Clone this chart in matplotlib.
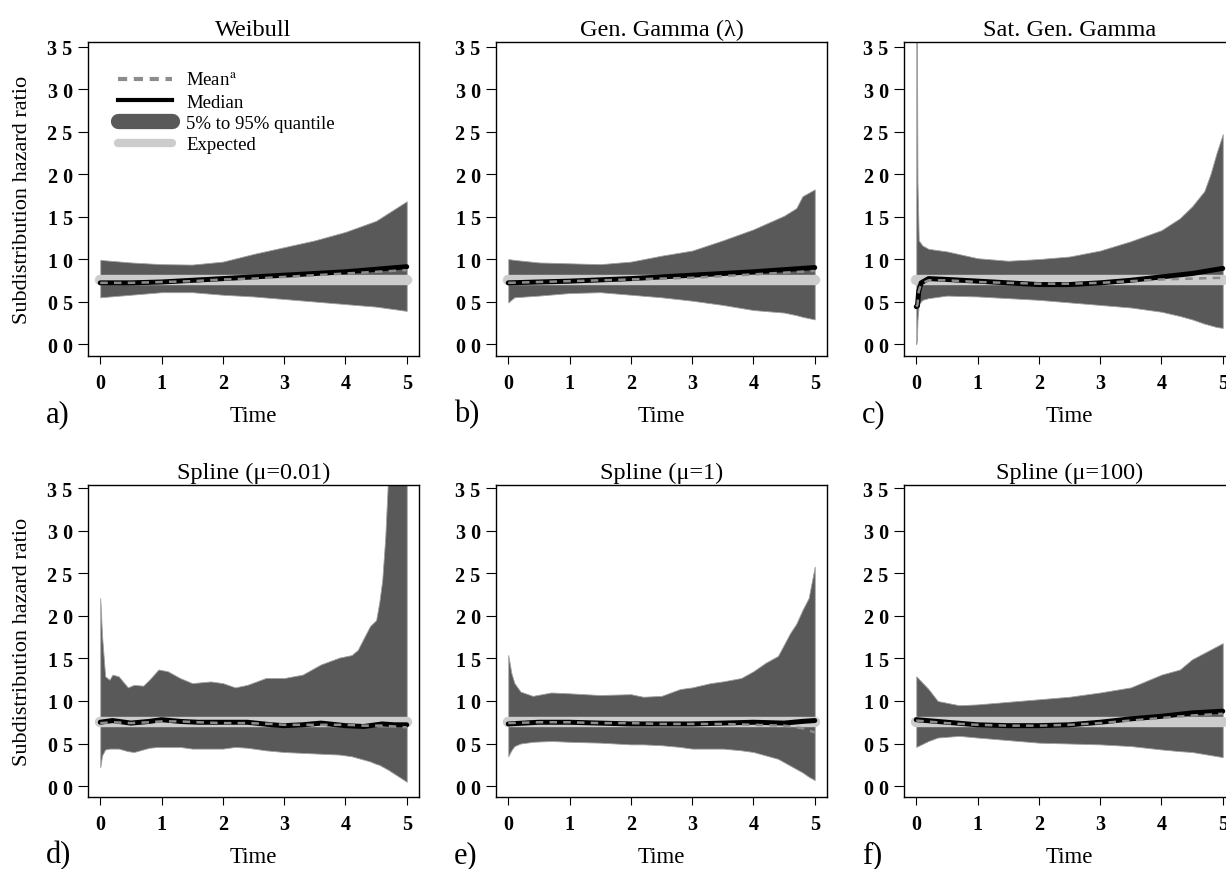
import matplotlib
matplotlib.use("Agg")
import matplotlib.pyplot as plt
from matplotlib.lines import Line2D
import numpy as np

# =========================
# Data
# =========================
titles = ["Weibull", "Gen. Gamma (\u03bb)", "Sat. Gen. Gamma",
          "Spline (\u03bc=0.01)", "Spline (\u03bc=1)", "Spline (\u03bc=100)"]
panel_tags = ["a)", "b)", "c)", "d)", "e)", "f)"]

xticks = [0, 1, 2, 3, 4, 5]
yticks = [0.0, 0.5, 1.0, 1.5, 2.0, 2.5, 3.0, 3.5]
ytick_labels = ["0 0", "0 5", "1 0", "1 5", "2 0", "2 5", "3 0", "3 5"]

expected_hr = 0.75

# a) Weibull
t_a = [0, 0.5, 1, 1.5, 2, 2.5, 3, 3.5, 4, 4.5, 5]
upper_a = [0.99, 0.96, 0.94, 0.935, 0.97, 1.06, 1.14, 1.22, 1.32, 1.45, 1.68]
lower_a = [0.55, 0.58, 0.61, 0.61, 0.58, 0.56, 0.53, 0.50, 0.47, 0.44, 0.39]
median_a = [0.72, 0.72, 0.73, 0.75, 0.77, 0.79, 0.81, 0.83, 0.85, 0.88, 0.91]
mean_a = [0.72, 0.72, 0.73, 0.74, 0.76, 0.77, 0.79, 0.81, 0.83, 0.85, 0.87]

# b) Gen. Gamma (lambda)
t_b = [0, 0.1, 0.5, 1, 1.5, 2, 2.5, 3, 3.5, 4, 4.5, 4.7, 4.8, 5]
upper_b = [1.00, 0.99, 0.96, 0.95, 0.94, 0.97, 1.04, 1.10, 1.22, 1.35, 1.51, 1.60, 1.74, 1.82]
lower_b = [0.49, 0.55, 0.57, 0.60, 0.61, 0.58, 0.55, 0.51, 0.46, 0.40, 0.37, 0.34, 0.32, 0.29]
tm_b = [0, 1, 2, 3, 4, 5]
median_b = [0.72, 0.74, 0.77, 0.81, 0.85, 0.90]
mean_b = [0.72, 0.74, 0.76, 0.78, 0.82, 0.86]

# c) Sat. Gen. Gamma
t_c = [0, 0.01, 0.02, 0.04, 0.1, 0.2, 0.5, 1, 1.5, 2, 2.5, 3, 3.5, 4, 4.3, 4.5, 4.7, 4.8, 4.9, 5]
upper_c = [4.0, 3.6, 1.9, 1.22, 1.16, 1.12, 1.09, 1.01, 0.98, 1.00, 1.03, 1.10, 1.21, 1.34,
           1.48, 1.62, 1.80, 2.00, 2.25, 2.47]
lower_c = [0.00, 0.05, 0.28, 0.47, 0.52, 0.54, 0.57, 0.56, 0.54, 0.52, 0.49, 0.46, 0.43, 0.38,
           0.33, 0.29, 0.24, 0.22, 0.20, 0.19]
tm_c = [0, 0.02, 0.04, 0.08, 0.2, 0.5, 1, 1.5, 2, 2.5, 3, 3.5, 4, 4.5, 5]
median_c = [0.44, 0.45, 0.62, 0.72, 0.77, 0.76, 0.74, 0.72, 0.70, 0.70, 0.72, 0.75, 0.79, 0.83, 0.89]
mean_c = [0.44, 0.46, 0.62, 0.71, 0.75, 0.75, 0.73, 0.72, 0.71, 0.71, 0.72, 0.74, 0.76, 0.77, 0.78]

# d) Spline (mu=0.01)
t_d = [0, 0.03, 0.08, 0.15, 0.2, 0.3, 0.45, 0.55, 0.7, 0.8, 0.95, 1.1, 1.3, 1.5, 1.8, 2.0,
       2.2, 2.4, 2.7, 3.0, 3.3, 3.6, 3.9, 4.1, 4.2, 4.3, 4.4, 4.5, 4.55, 4.6, 4.65, 4.7, 5.0]
upper_d = [2.21, 1.76, 1.29, 1.25, 1.31, 1.29, 1.16, 1.19, 1.18, 1.25, 1.37, 1.35, 1.27, 1.21,
           1.23, 1.21, 1.16, 1.19, 1.27, 1.27, 1.31, 1.43, 1.51, 1.54, 1.60, 1.74, 1.88, 1.95,
           2.15, 2.42, 2.93, 3.7, 4.5]
lower_d = [0.22, 0.36, 0.43, 0.44, 0.44, 0.44, 0.41, 0.40, 0.43, 0.45, 0.46, 0.46, 0.46, 0.44,
           0.44, 0.44, 0.46, 0.45, 0.42, 0.40, 0.39, 0.38, 0.37, 0.35, 0.33, 0.31, 0.29, 0.26,
           0.25, 0.23, 0.21, 0.19, 0.05]
tm_d = [0, 0.2, 0.5, 0.8, 1.0, 1.3, 1.6, 2.0, 2.4, 2.8, 3.0, 3.3, 3.6, 4.0, 4.3, 4.6, 4.8, 5.0]
median_d = [0.75, 0.77, 0.74, 0.76, 0.78, 0.76, 0.75, 0.75, 0.75, 0.72, 0.71, 0.72, 0.74, 0.71,
            0.70, 0.73, 0.72, 0.72]
mean_d = [0.74, 0.75, 0.74, 0.75, 0.76, 0.76, 0.75, 0.74, 0.74, 0.73, 0.72, 0.72, 0.72, 0.72,
          0.71, 0.71, 0.70, 0.69]

# e) Spline (mu=1)
t_e = [0, 0.05, 0.1, 0.2, 0.4, 0.7, 1.0, 1.5, 2.0, 2.2, 2.5, 2.8, 3.0, 3.3, 3.5, 3.8, 4.0,
       4.2, 4.4, 4.6, 4.7, 4.8, 4.9, 5.0]
upper_e = [1.54, 1.33, 1.21, 1.11, 1.06, 1.10, 1.09, 1.07, 1.08, 1.05, 1.06, 1.14, 1.16, 1.21,
           1.23, 1.27, 1.35, 1.45, 1.53, 1.80, 1.91, 2.07, 2.21, 2.58]
lower_e = [0.35, 0.42, 0.47, 0.50, 0.52, 0.53, 0.52, 0.51, 0.49, 0.49, 0.48, 0.46, 0.44, 0.44,
           0.44, 0.42, 0.40, 0.36, 0.32, 0.24, 0.20, 0.16, 0.11, 0.07]
tm_e = [0, 0.5, 1, 1.5, 2, 2.5, 3, 3.5, 4, 4.5, 4.8, 5]
median_e = [0.73, 0.75, 0.75, 0.74, 0.73, 0.73, 0.73, 0.74, 0.75, 0.74, 0.76, 0.77]
mean_e = [0.74, 0.75, 0.75, 0.74, 0.74, 0.73, 0.73, 0.73, 0.72, 0.71, 0.68, 0.63]

# f) Spline (mu=100)
t_f = [0, 0.2, 0.35, 0.7, 1, 1.5, 2, 2.5, 3, 3.5, 4, 4.3, 4.5, 5]
upper_f = [1.29, 1.14, 1.00, 0.95, 0.96, 0.99, 1.02, 1.05, 1.10, 1.16, 1.31, 1.37, 1.49, 1.68]
lower_f = [0.46, 0.53, 0.57, 0.59, 0.57, 0.54, 0.51, 0.50, 0.49, 0.47, 0.43, 0.41, 0.40, 0.34]
tm_f = [0, 0.5, 1, 1.5, 2, 2.5, 3, 3.5, 4, 4.5, 5]
median_f = [0.78, 0.75, 0.72, 0.71, 0.71, 0.72, 0.75, 0.79, 0.82, 0.86, 0.88]
mean_f = [0.77, 0.74, 0.72, 0.71, 0.71, 0.72, 0.74, 0.77, 0.80, 0.83, 0.85]

panels = [
    (t_a, upper_a, lower_a, t_a, median_a, mean_a),
    (t_b, upper_b, lower_b, tm_b, median_b, mean_b),
    (t_c, upper_c, lower_c, tm_c, median_c, mean_c),
    (t_d, upper_d, lower_d, tm_d, median_d, mean_d),
    (t_e, upper_e, lower_e, tm_e, median_e, mean_e),
    (t_f, upper_f, lower_f, tm_f, median_f, mean_f),
]

# =========================
# Style
# =========================
W, H = 1226, 870
plt.rcParams.update({
    "font.family": ["Liberation Serif", "DejaVu Serif"],
    "mathtext.fontset": "stix",
    "axes.linewidth": 1.0,
})

BAND = "#595959"
BAND_EDGE = "#a0a0a0"
EXPECTED = "#cccccc"
MEDIAN = "#000000"
MEAN = "#8c8c8c"

col_left = [88, 496, 904]      # frame left in pixels
frame_w = 331
row_top = [43, 486]
row_bottom = [357, 798]
row_ylim = [(-0.141, 3.555), (-0.129, 3.54)]

fig = plt.figure(figsize=(W / 100, H / 100), dpi=100)

for k, (t, up, lo, tm, med, mn) in enumerate(panels):
    r, c = divmod(k, 3)
    left = col_left[c]
    top, bottom = row_top[r], row_bottom[r]
    ax = fig.add_axes([left / W, 1 - bottom / H, frame_w / W, (bottom - top) / H])

    ax.fill_between(t, lo, up, facecolor=BAND, edgecolor=BAND_EDGE, linewidth=0.6, zorder=1)
    ax.plot([0, 5], [expected_hr, expected_hr], color=EXPECTED, lw=7.5,
            solid_capstyle="round", zorder=2)
    ax.plot(tm, med, color=MEDIAN, lw=3.6, solid_capstyle="round",
            solid_joinstyle="round", zorder=3)
    ax.plot(tm, mn, color=MEAN, lw=1.8, dashes=(3, 2.5), zorder=4)

    ax.set_xlim(-0.2, 5.2)
    ax.set_ylim(*row_ylim[r])
    ax.set_xticks(xticks)
    ax.set_xticklabels([str(v) for v in xticks], fontsize=14.5, fontweight="bold")
    ax.set_yticks(yticks)
    ax.set_yticklabels(ytick_labels, fontsize=14.5, fontweight="bold")
    ax.tick_params(axis="x", direction="out", length=6, width=0.8, pad=6)
    ax.tick_params(axis="y", direction="out", length=7, width=0.8, pad=4)
    ax.set_title(titles[k], fontsize=17.5, pad=5)

    # x label and panel tag
    cx = left + frame_w / 2
    ty = bottom + 60
    fig.text(cx / W, 1 - ty / H, "Time", fontsize=16.5, ha="center", va="center")
    fig.text((left - 42) / W, 1 - (ty - 2) / H, panel_tags[k], fontsize=22,
             ha="left", va="center")

    if c == 0:
        fig.text(23 / W, 1 - (top + bottom) / 2 / H, "Subdistribution hazard ratio",
                 fontsize=16, rotation=90, ha="center", va="center")

    if k == 0:
        handles = [
            Line2D([], [], color=MEAN, lw=3, dashes=(2.2, 1.6)),
            Line2D([], [], color=MEDIAN, lw=3),
            Line2D([], [], color=BAND, lw=11, solid_capstyle="round"),
            Line2D([], [], color=EXPECTED, lw=6, solid_capstyle="round"),
        ]
        labels = ["Mean$^{\\rm a}$", "Median", "5% to 95% quantile", "Expected"]
        ax.legend(handles, labels, loc="upper left", bbox_to_anchor=(0.09, 0.905),
                  frameon=False, fontsize=13.5, handlelength=2.9, handletextpad=0.75,
                  labelspacing=0.22, borderpad=0, borderaxespad=0)

fig.savefig("out.png", dpi=100)
